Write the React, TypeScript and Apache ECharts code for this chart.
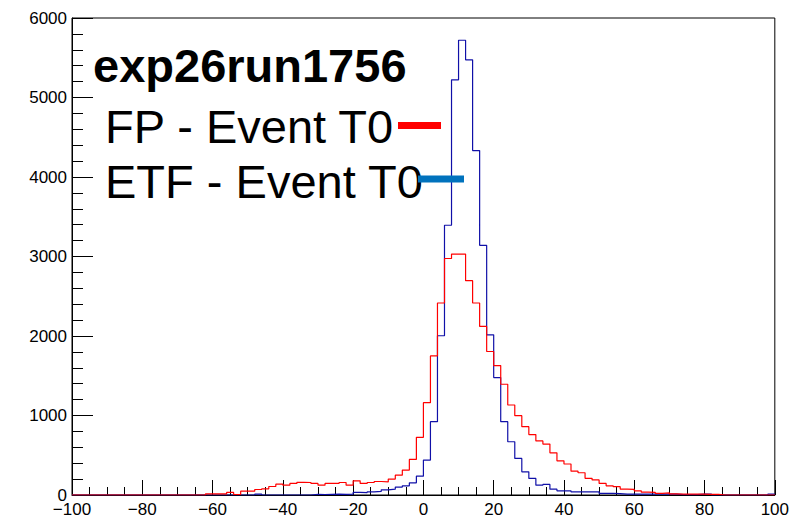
import React, { useEffect, useRef } from "react";
import * as echarts from "echarts";

// Histogram binning: 100 bins of width 2 from -100 to 100
const BIN_LOW = -100;
const BIN_WIDTH = 2;

// FP - Event T0 (red)
const fpValues = [
  0, 0, 0, 0, 0, 0, 0, 0, 0, 0,
  0, 0, 0, 0, 0, 0, 0, 0, 0, 15,
  14, 14, 32, 6, 48, 48, 69, 78, 107, 136,
  124, 145, 160, 157, 145, 124, 145, 145, 157, 124,
  178, 145, 157, 170, 165, 200, 250, 313, 448, 725,
  1161, 1750, 2415, 2975, 3030, 3030, 2696, 2415, 2120, 1805,
  1628, 1393, 1132, 998, 859, 760, 680, 640, 530, 430,
  390, 300, 280, 210, 190, 145, 115, 105, 75, 70,
  52, 35, 32, 20, 27, 14, 12, 12, 10, 10,
  8, 8, 0, 0, 0, 0, 0, 0, 0, 0,
];

// ETF - Event T0 (blue)
const etfValues = [
  0, 0, 0, 0, 0, 0, 0, 0, 0, 0,
  0, 0, 0, 0, 0, 0, 0, 0, 0, 0,
  0, 0, 0, 0, 0, 0, 10, 0, 0, 0,
  0, 0, 0, 0, 8, 6, 8, 10, 8, 10,
  32, 30, 40, 45, 65, 73, 100, 115, 153, 237,
  439, 922, 2003, 3393, 5222, 5720, 5474, 4332, 3141, 2015,
  1477, 922, 670, 460, 292, 208, 124, 133, 73, 52,
  52, 40, 40, 40, 40, 20, 20, 18, 12, 10,
  10, 10, 10, 10, 12, 12, 5, 5, 5, 10,
  10, 0, 0, 0, 0, 0, 0, 0, 0, 10,
];

const TITLE = "exp26run1756";
const LEGEND_LABELS = ["FP - Event T0", "ETF - Event T0"];

function toSteps(vals: number[]): number[][] {
  const pts = vals.map((v, i) => [BIN_LOW + i * BIN_WIDTH, v]);
  pts.push([BIN_LOW + vals.length * BIN_WIDTH, vals[vals.length - 1]]);
  return pts;
}

const FONT = "'Liberation Sans', Arial, Helvetica, sans-serif";

export default function App() {
  const ref = useRef<HTMLDivElement>(null);
  useEffect(() => {
    document.body.style.margin = "0";
    if (!ref.current) return;
    const chart = echarts.init(ref.current, undefined, { renderer: "svg" });
    const minusFmt = (v: number) => String(v).replace("-", "\u2212");
    chart.setOption({
      animation: false,
      backgroundColor: "#ffffff",
      grid: {
        left: 72,
        top: 18,
        right: 16,
        bottom: 23,
        show: true,
        borderColor: "#000",
        borderWidth: 1,
        backgroundColor: "transparent",
      },
      xAxis: {
        type: "value",
        min: -100,
        max: 100,
        interval: 20,
        axisLine: { show: true, onZero: false, lineStyle: { color: "#000", width: 1 } },
        axisTick: { show: true, inside: true, length: 15, lineStyle: { color: "#000", width: 1 } },
        minorTick: { show: true, splitNumber: 4, length: 8, lineStyle: { color: "#000", width: 1 } },
        splitLine: { show: false },
        axisLabel: {
          color: "#000",
          fontSize: 17,
          fontFamily: FONT,
          margin: 6,
          formatter: minusFmt,
          showMinLabel: true,
          showMaxLabel: true,
        },
      },
      yAxis: {
        type: "value",
        min: 0,
        max: 6000,
        interval: 1000,
        axisLine: { show: true, onZero: false, lineStyle: { color: "#000", width: 1 } },
        axisTick: { show: true, inside: true, length: 21, lineStyle: { color: "#000", width: 1 } },
        minorTick: { show: true, splitNumber: 5, length: 11, lineStyle: { color: "#000", width: 1 } },
        splitLine: { show: false },
        axisLabel: {
          color: "#000",
          fontSize: 17,
          fontFamily: FONT,
          margin: 5,
          formatter: (v: number) => String(v),
          showMinLabel: true,
          showMaxLabel: true,
        },
      },
      series: [
        {
          name: LEGEND_LABELS[1],
          type: "line",
          step: "end",
          data: toSteps(etfValues),
          showSymbol: false,
          symbol: "none",
          lineStyle: { color: "#1010a8", width: 1.2 },
          z: 2,
        },
        {
          name: LEGEND_LABELS[0],
          type: "line",
          step: "end",
          data: toSteps(fpValues),
          showSymbol: false,
          symbol: "none",
          lineStyle: { color: "#ff0000", width: 1.2 },
          z: 3,
        },
      ],
      graphic: [
        {
          type: "text",
          left: 93,
          top: 42,
          z: 10,
          style: {
            text: TITLE,
            fontSize: 47,
            fontWeight: "bold",
            fontFamily: FONT,
            fill: "#000",
          },
        },
        {
          type: "text",
          left: 105,
          top: 103,
          z: 10,
          style: {
            text: LEGEND_LABELS[0],
            fontSize: 47,
            fontFamily: FONT,
            fill: "#000",
          },
        },
        {
          type: "text",
          left: 105,
          top: 158,
          z: 10,
          style: {
            text: LEGEND_LABELS[1],
            fontSize: 47,
            fontFamily: FONT,
            fill: "#000",
          },
        },
        {
          type: "line",
          z: 11,
          shape: { x1: 398, y1: 125.5, x2: 441, y2: 125.5 },
          style: { stroke: "#ff0000", lineWidth: 7 },
        },
        {
          type: "line",
          z: 11,
          shape: { x1: 418, y1: 179, x2: 464, y2: 179 },
          style: { stroke: "#0072bd", lineWidth: 7 },
        },
      ],
    });
    return () => chart.dispose();
  }, []);
  return <div ref={ref} style={{ width: 792, height: 518 }} />;
}
